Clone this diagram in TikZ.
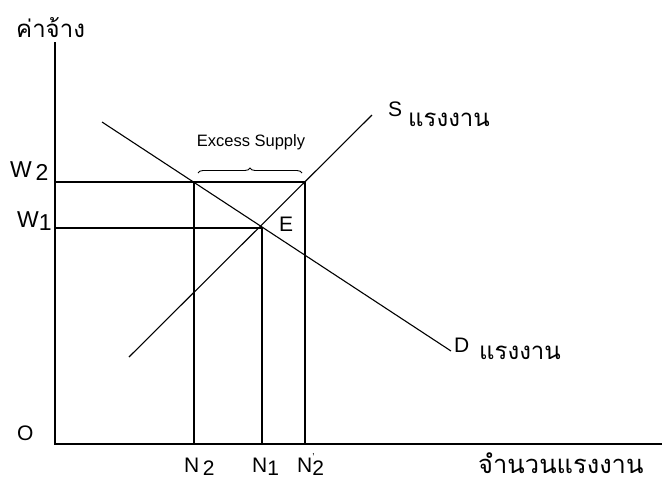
\documentclass[tikz,border=0pt]{standalone}
\usepackage{fontspec}
\setmainfont{Liberation Sans}
\newfontfamily\thaifont[Script=Thai]{Loma}
\usetikzlibrary{calc, decorations.pathreplacing}

\begin{document}
\begin{tikzpicture}[
    x=1pt, y=-1pt,
    font=\fontsize{21}{24}\selectfont,
    % Axis & Guide Styles
    axis/.style={line width=2.6pt, black},
    guide/.style={line width=1.1pt, black},
    curve/.style={line width=1.1pt, black},
    % Label Styles
    lbl/.style={inner sep=0pt, anchor=base west},
    wlbl/.style={lbl, font=\fontsize{23}{26}\selectfont},
    thai/.style={inner sep=0pt, anchor=base west, font=\thaifont\fontsize{24}{28}\selectfont}
]
    \useasboundingbox (0,0) rectangle (662,483);

    % ==========================================
    % Axes
    % ==========================================
    \coordinate (O) at (55,444);
    \coordinate (Ytop) at (55,42);
    \coordinate (Xend) at (662,444);

    \draw[axis] (Ytop) -- (O) -- (Xend);

    \node[lbl] (olbl) at (17,440) {O};
    \node[thai] (ylbl) at (16,37) {ค่าจ้าง};
    \node[thai, font=\thaifont\fontsize{25.5}{28}\selectfont] (xlbl) at (478,473) {จำนวนแรงงาน};

    % ==========================================
    % Demand & Supply
    % ==========================================
    \coordinate (D0) at (102,122);
    \coordinate (D1) at (451,351);
    \coordinate (S0) at (129,357);
    \coordinate (S1) at (372,115);

    \draw[curve] (D0) -- (D1);
    \draw[curve] (S0) -- (S1);

    \node[lbl] (slbl) at (388,116) {S};
    \node[thai] (sthai) at (408,126) {แรงงาน};
    \node[lbl] (dlbl) at (454,352) {D};
    \node[thai] (dthai) at (479,359) {แรงงาน};

    % ==========================================
    % Wages & Employment
    % ==========================================
    \coordinate (W2) at (55,182);
    \coordinate (W1) at (55,228);
    \coordinate (A) at (194,182);
    \coordinate (E) at (262,228);
    \coordinate (B) at (305,182);
    \coordinate (N2) at (194,444);
    \coordinate (N1) at (262,444);
    \coordinate (N2p) at (305,444);

    \draw[guide] (W2) -- (B) -- (N2p);
    \draw[guide] (W1) -- (E) -- (N1);
    \draw[guide] (A) -- (N2);

    \node[wlbl] (w2lbl) at (10,177) {W\,\raisebox{-0.3ex}{2}};
    \node[wlbl] (w1lbl) at (17,227) {W\raisebox{-0.3ex}{1}};
    \node[lbl] (elbl) at (279,231) {E};

    \node[lbl] (n2lbl) at (184,472) {N\,\raisebox{-0.3ex}{2}};
    \node[lbl] (n1lbl) at (252,472) {N\raisebox{-0.3ex}{1}};
    \node[lbl] (n2plbl) at (297,472) {N\rlap{\raisebox{1.0ex}{\normalsize'}}\raisebox{-0.3ex}{2}};

    % Excess supply brace
    \coordinate (Bl) at (198,173);
    \coordinate (Br) at (302,173);
    \draw[guide, line width=0.9pt, decorate, decoration={brace, amplitude=5pt}] (Bl) -- (Br);
    \node[lbl, anchor=base, font=\fontsize{16.5}{19}\selectfont] (exlbl) at (251,146) {Excess Supply};

\end{tikzpicture}
\end{document}
